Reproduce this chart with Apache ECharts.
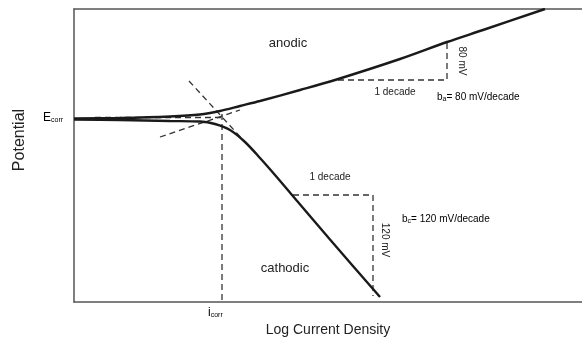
<!DOCTYPE html>
<html>
<head>
<meta charset="utf-8">
<script src="https://cdn.jsdelivr.net/npm/echarts@6/dist/echarts.min.js"></script>
<style>html,body{margin:0;padding:0;background:#fff;}#c{width:582px;height:342px;}</style>
</head>
<body>
<div id="c"></div>
<script>
// Arbitrary units: x = log current density, y = potential (schematic)
var anodicCurve = [[0,183.5],[46,184],[96,185.5],[126,187.5],[146,191],[166,196],[186,201],[226,212],[261,222],[326,243],[373,260],[409,272],[471,293]];
var cathodicCurve = [[0,182.5],[46,182],[96,181],[126,180.5],[141,178],[156,172],[171,160],[186,144],[201,127],[218,107],[256,62.5],[306,5]];
var ecorrLine = [[21,184.5],[151,184.5]];
var icorrLine = [[148,188],[148,0]];
var anodicTangent = [[86,165],[166,192]];
var cathodicTangent = [[115,221],[171,160]];
var anodicTriangle = [[264,222],[373,222],[373,260]];
var cathodicTriangle = [[219,107],[299,107],[299,6]];

var FONT = 'Liberation Sans, Arial, sans-serif';
var chart = echarts.init(document.getElementById('c'), null, {renderer:'canvas'});

function dashed(data){
  return {type:'line', data:data, showSymbol:false, silent:true,
    lineStyle:{color:'#333', width:1.3, type:[6,4]}, z:2};
}
function solid(data){
  return {type:'line', data:data, showSymbol:false, silent:true, smooth:0.3,
    lineStyle:{color:'#1a1a1a', width:2.4}, z:3};
}

var textColor = '#222';
chart.setOption({
  animation:false,
  grid:{left:74, top:9, right:0, bottom:40},
  xAxis:[{type:'value', min:0, max:508, position:'bottom',
    axisLine:{show:true, lineStyle:{color:'#555', width:1.5}},
    axisTick:{show:false}, axisLabel:{show:false}, splitLine:{show:false},
    name:'Log Current Density', nameLocation:'middle', nameGap:21,
    nameTextStyle:{fontFamily:FONT, fontSize:14, color:textColor}},
   {type:'value', min:0, max:508, position:'top',
    axisLine:{show:true, lineStyle:{color:'#555', width:1.5}},
    axisTick:{show:false}, axisLabel:{show:false}, splitLine:{show:false}}],
  yAxis:{type:'value', min:0, max:293,
    axisLine:{show:true, lineStyle:{color:'#555', width:1.5}},
    axisTick:{show:false}, axisLabel:{show:false}, splitLine:{show:false}},
  series:[
    dashed(ecorrLine), dashed(icorrLine), dashed(anodicTangent), dashed(cathodicTangent),
    dashed(anodicTriangle), dashed(cathodicTriangle),
    solid(anodicCurve), solid(cathodicCurve)
  ],
  graphic:[
    {type:'text', x:20, y:140, rotation:Math.PI/2, style:{text:'Potential', font:'16px '+FONT, fill:textColor, align:'center', verticalAlign:'middle'}},
    {type:'text', x:288, y:43, style:{text:'anodic', font:'13px '+FONT, fill:textColor, align:'center', verticalAlign:'middle'}},
    {type:'text', x:285, y:268, style:{text:'cathodic', font:'13px '+FONT, fill:textColor, align:'center', verticalAlign:'middle'}},
    {type:'text', x:395, y:92, style:{text:'1 decade', font:'10px '+FONT, fill:textColor, align:'center', verticalAlign:'middle'}},
    {type:'text', x:330, y:177, style:{text:'1 decade', font:'10px '+FONT, fill:textColor, align:'center', verticalAlign:'middle'}},
    {type:'text', x:462, y:61, rotation:-Math.PI/2, style:{text:'80 mV', font:'10px '+FONT, fill:textColor, align:'center', verticalAlign:'middle'}},
    {type:'text', x:385, y:240, rotation:-Math.PI/2, style:{text:'120 mV', font:'10px '+FONT, fill:textColor, align:'center', verticalAlign:'middle'}},
    {type:'text', x:437, y:97, style:{text:'{m|b}{s|a}{m|= 80 mV/decade}', align:'left', verticalAlign:'middle',
      rich:{m:{fontFamily:FONT, fontSize:10, color:textColor}, s:{fontFamily:FONT, fontSize:7, color:textColor, verticalAlign:'bottom', padding:[4,0,0,0]}}}},
    {type:'text', x:402, y:219, style:{text:'{m|b}{s|c}{m|= 120 mV/decade}', align:'left', verticalAlign:'middle',
      rich:{m:{fontFamily:FONT, fontSize:10, color:textColor}, s:{fontFamily:FONT, fontSize:7, color:textColor, verticalAlign:'bottom', padding:[4,0,0,0]}}}},
    {type:'text', x:43, y:118, style:{text:'{m|E}{s|corr}', align:'left', verticalAlign:'middle',
      rich:{m:{fontFamily:FONT, fontSize:12, color:textColor}, s:{fontFamily:FONT, fontSize:7, color:textColor, verticalAlign:'bottom', padding:[5,0,0,0]}}}},
    {type:'text', x:208, y:313, style:{text:'{m|i}{s|corr}', align:'left', verticalAlign:'middle',
      rich:{m:{fontFamily:FONT, fontSize:12, color:textColor}, s:{fontFamily:FONT, fontSize:7, color:textColor, verticalAlign:'bottom', padding:[5,0,0,0]}}}}
  ]
});
</script>
</body>
</html>
